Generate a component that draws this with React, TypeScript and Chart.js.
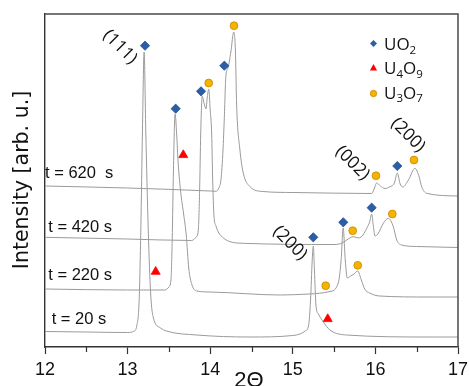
import React, { useEffect, useRef } from 'react';
import { Chart, registerables } from 'chart.js';

Chart.register(...registerables);

// ---------- data (2Θ in degrees, intensity in arbitrary units incl. stacking offset) ----------
const xTickValues = [12, 13, 14, 15, 16, 17];
const minorTickValues = [12.5, 13.5, 14.5, 15.5, 16.5];

const t20X = [12.0, 12.5, 13.0, 13.08, 13.11, 13.14, 13.16, 13.18, 13.2, 13.22, 13.25, 13.28, 13.31, 13.4, 13.47, 13.84, 14.48, 15.0, 15.087, 15.15, 15.19, 15.215, 15.235, 15.248, 15.262, 15.28, 15.31, 15.37, 15.45, 15.65, 16.66, 17.0];
const t20Y = [15.5, 15, 14.5, 16, 21, 47, 117, 217, 295, 217, 117, 52, 30, 19, 16, 12, 10, 11.5, 13, 16, 21, 47, 87, 101, 77, 42, 33, 25, 17, 12, 10, 10];

const t220X = [12.0, 13.0, 13.45, 13.5, 13.525, 13.54, 13.555, 13.575, 13.594, 13.61, 13.64, 13.68, 13.71, 13.74, 13.78, 13.84, 14.0, 14.85, 15.2, 15.45, 15.55, 15.585, 15.61, 15.635, 15.66, 15.7, 15.74, 15.785, 15.83, 15.87, 15.93, 16.05, 16.65, 17.0];
const t220Y = [58, 57, 57, 60, 67, 107, 177, 233, 213, 187, 157, 132, 112, 79, 62, 56, 55, 52, 53, 55.5, 64, 87, 119, 87, 69, 71, 73, 76, 67, 58, 54, 51, 50, 50];

const t420X = [12.0, 13.0, 13.776, 13.83, 13.856, 13.872, 13.885, 13.904, 13.925, 13.949, 13.965, 13.982, 14.0, 14.018, 14.03, 14.045, 14.07, 14.098, 14.16, 14.24, 14.4, 15.5, 15.6, 15.653, 15.732, 15.8, 15.85, 15.895, 15.93, 15.955, 15.975, 15.995, 16.03, 16.096, 16.156, 16.217, 16.258, 16.318, 16.5, 17.0];
const t420Y = [109.7, 108, 106.5, 110, 117, 157, 213, 251, 244, 238, 250, 258, 237, 213, 167, 132, 121, 115, 109, 105.3, 103.7, 102.5, 104, 107, 110.3, 109, 112, 118.7, 125, 133, 121, 111, 113, 123.7, 128.7, 120.3, 107, 102, 100.5, 99.5];

const t620X = [12.0, 13.0, 14.0, 14.07, 14.11, 14.13, 14.155, 14.17, 14.19, 14.215, 14.25, 14.285, 14.305, 14.32, 14.36, 14.4, 14.48, 14.64, 15.0, 15.955, 15.98, 16.016, 16.06, 16.116, 16.177, 16.23, 16.265, 16.3, 16.33, 16.4, 16.479, 16.53, 16.56, 16.62, 17.0];
const t620Y = [161, 159, 156, 155.7, 160, 167, 197, 227, 271, 279, 295, 315, 297, 242, 197, 174, 160.5, 155.5, 154.5, 153.5, 157, 164, 161, 158.5, 160.3, 164, 174, 163, 160, 167, 178.7, 170, 160.3, 153.7, 151];

const uo2X = [13.211, 13.582, 13.889, 14.171, 15.248, 15.611, 15.955, 16.265];
const uo2Y = [301.3, 238.3, 255.7, 281.3, 109.7, 124.7, 139.3, 181];
const u4o9X = [13.674, 13.34, 15.423];
const u4o9Y = [192, 75.3, 28];
const u3o7X = [14.288, 13.982, 15.398, 15.786, 15.725, 16.205, 16.007, 16.467];
const u3o7Y = [321.3, 264, 61.3, 81.7, 116.3, 133, 171.3, 187];

const timeLabels = ['t = 620  s', 't = 420 s', 't = 220 s', 't = 20 s'];
const peakLabels = ['(111)', '(200)', '(002)', '(200)'];
const peakLabelX = [12.908, 14.966, 15.723, 16.395];
const peakLabelY = [300, 104, 184, 212];

const legendLabels = [
  [['U', false], ['O', false], ['2', true]],
  [['U', false], ['4', true], ['O', false], ['9', true]],
  [['U', false], ['3', true], ['O', false], ['7', true]],
] as [string, boolean][][];

const xTitle = '2Θ';
const yTitle = 'Intensity [arb. u.]';

// ---------- styles ----------
const CURVE = '#9a9a9a';
const BLUE = '#2b5ea7';
const BLUE_EDGE = '#1e4f95';
const RED = '#ff0000';
const GOLD = '#f4b400';
const GOLD_EDGE = '#c98800';
const AXIS = '#333333';

const toPts = (xs: number[], ys: number[]) => xs.map((x, i) => ({ x, y: ys[i] }));

function drawChem(ctx: CanvasRenderingContext2D, parts: [string, boolean][], x: number, y: number) {
  let cx = x;
  for (const [s, sub] of parts) {
    ctx.font = sub ? '11.5px "Open Sans"' : '17px "Open Sans"';
    ctx.fillText(s, cx, sub ? y + 3.5 : y);
    cx += ctx.measureText(s).width;
  }
}

const decor = {
  id: 'decor',
  afterDraw(chart: any) {
    const { ctx, chartArea: a, scales } = chart;
    const xs = scales.x;
    const ys = scales.y;
    ctx.save();
    // top and right frame
    ctx.strokeStyle = '#4a4a4a';
    ctx.lineWidth = 1.5;
    ctx.beginPath();
    ctx.moveTo(a.left, a.top);
    ctx.lineTo(a.right, a.top);
    ctx.lineTo(a.right, a.bottom);
    ctx.stroke();
    // minor ticks
    ctx.strokeStyle = AXIS;
    ctx.lineWidth = 1.2;
    ctx.beginPath();
    for (const v of minorTickValues) {
      const px = Math.round(xs.getPixelForValue(v)) + 0.5;
      ctx.moveTo(px, a.bottom);
      ctx.lineTo(px, a.bottom + 5);
    }
    ctx.stroke();

    // x tick labels
    ctx.fillStyle = '#111111';
    ctx.font = '18px "Liberation Sans"';
    ctx.textAlign = 'center';
    ctx.textBaseline = 'alphabetic';
    for (const t of xs.ticks) {
      ctx.fillText(String(t.value), xs.getPixelForValue(t.value), a.bottom + 28);
    }

    // time labels
    ctx.font = '16.5px "Liberation Sans"';
    ctx.textAlign = 'left';
    const tPos = [[45, 178.3], [48.3, 231.7], [48.3, 280], [51.7, 324]];
    timeLabels.forEach((t, i) => ctx.fillText(t, tPos[i][0], tPos[i][1]));

    // peak labels (rotated)
    ctx.font = '17.5px "Open Sans"';
    ctx.textAlign = 'center';
    ctx.textBaseline = 'middle';
    peakLabels.forEach((t, i) => {
      ctx.save();
      ctx.translate(xs.getPixelForValue(peakLabelX[i]), ys.getPixelForValue(peakLabelY[i]));
      ctx.rotate(Math.PI / 4);
      ctx.fillText(t, 0, 0);
      ctx.restore();
    });

    // legend
    const lx = 373.5;
    const rows = [43.5, 68, 93.5];
    ctx.fillStyle = BLUE;
    ctx.beginPath();
    ctx.moveTo(lx - 3.5, rows[0]);
    ctx.lineTo(lx, rows[0] - 3.5);
    ctx.lineTo(lx + 3.5, rows[0]);
    ctx.lineTo(lx, rows[0] + 3.5);
    ctx.closePath();
    ctx.fill();
    ctx.fillStyle = RED;
    ctx.beginPath();
    ctx.moveTo(lx, rows[1] - 4);
    ctx.lineTo(lx + 3.6, rows[1] + 2.5);
    ctx.lineTo(lx - 3.6, rows[1] + 2.5);
    ctx.closePath();
    ctx.fill();
    ctx.fillStyle = GOLD;
    ctx.strokeStyle = GOLD_EDGE;
    ctx.lineWidth = 0.8;
    ctx.beginPath();
    ctx.arc(lx, rows[2], 3.2, 0, Math.PI * 2);
    ctx.fill();
    ctx.stroke();

    ctx.fillStyle = '#111111';
    ctx.textAlign = 'left';
    ctx.textBaseline = 'alphabetic';
    const base = [50, 74, 98.5];
    legendLabels.forEach((parts, i) => drawChem(ctx, parts, 384, base[i]));

    // axis titles
    ctx.font = '22px "Liberation Sans"';
    ctx.textAlign = 'center';
    ctx.textBaseline = 'alphabetic';
    ctx.fillText(xTitle, 249, 387);

    ctx.save();
    ctx.translate(28.3, 180);
    ctx.rotate(-Math.PI / 2);
    ctx.font = '20.5px "DejaVu Sans"';
    ctx.textAlign = 'center';
    ctx.textBaseline = 'alphabetic';
    ctx.fillText(yTitle, 0, 0);
    ctx.restore();

    ctx.restore();
  },
};

export default function App() {
  const ref = useRef<HTMLCanvasElement | null>(null);

  useEffect(() => {
    if (!ref.current) return;
    const curve = (label: string, xs: number[], ys: number[]) => ({
      label,
      data: toPts(xs, ys),
      borderColor: CURVE,
      borderWidth: 1,
      pointRadius: 0,
      fill: false,
      cubicInterpolationMode: 'monotone' as const,
      order: 2,
    });
    const marks = (label: string, xs: number[], ys: number[], style: string, r: number, bg: string, edge: string) => ({
      label,
      data: toPts(xs, ys),
      showLine: false,
      pointStyle: style,
      pointRadius: r,
      pointBackgroundColor: bg,
      pointBorderColor: edge,
      pointBorderWidth: 0.8,
      backgroundColor: bg,
      borderColor: edge,
      order: 1,
    });

    const chart = new Chart(ref.current, {
      type: 'line',
      data: {
        datasets: [
          marks('UO2', uo2X, uo2Y, 'rectRot', 4.6, BLUE, BLUE_EDGE),
          marks('U4O9', u4o9X, u4o9Y, 'triangle', 5.2, RED, RED),
          marks('U3O7', u3o7X, u3o7Y, 'circle', 3.9, GOLD, GOLD_EDGE),
          curve('t = 20 s', t20X, t20Y),
          curve('t = 220 s', t220X, t220Y),
          curve('t = 420 s', t420X, t420Y),
          curve('t = 620 s', t620X, t620Y),
        ] as any,
      },
      options: {
        animation: false,
        responsive: false,
        maintainAspectRatio: false,
        layout: { padding: { left: 0, right: 11, top: 14, bottom: 0 } },
        plugins: { legend: { display: false }, tooltip: { enabled: false } },
        scales: {
          x: {
            type: 'linear',
            min: 12,
            max: 17,
            afterFit: (s: any) => { s.height = 39; },
            afterBuildTicks: (s: any) => { s.ticks = xTickValues.map((v) => ({ value: v })); },
            ticks: { display: false },
            grid: {
              display: true,
              drawOnChartArea: false,
              drawTicks: true,
              tickLength: 7,
              tickColor: AXIS,
              tickWidth: 1.2,
              color: AXIS,
            },
            border: { display: true, color: AXIS, width: 1.4 },
          },
          y: {
            type: 'linear',
            min: 0,
            max: 333,
            afterFit: (s: any) => { s.width = 45; },
            ticks: { display: false },
            grid: { display: false },
            border: { display: true, color: AXIS, width: 1.4 },
          },
        },
      },
      plugins: [decor],
    });
    return () => chart.destroy();
  }, []);

  return (
    <div style={{ position: 'absolute', left: 0, top: 0, width: 469, height: 386, background: '#fff' }}>
      <canvas ref={ref} width={469} height={386} style={{ width: 469, height: 386, display: 'block' }} />
    </div>
  );
}
